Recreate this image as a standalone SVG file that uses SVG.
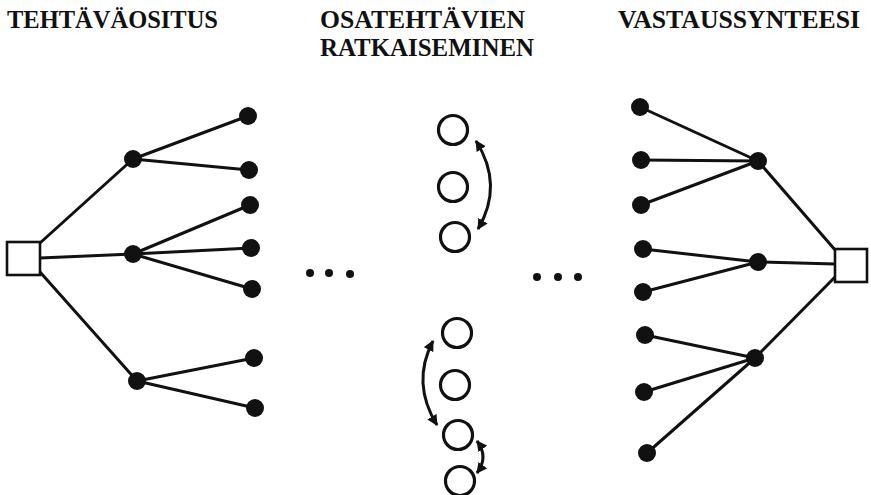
<svg xmlns="http://www.w3.org/2000/svg" width="871" height="495" viewBox="0 0 871 495">
  <style>
    .title { font-family: "Liberation Serif", "DejaVu Serif", serif; font-weight: bold; font-size: 26px; fill: #111; }
    .edge { stroke: #111; stroke-width: 3; fill: none; stroke-linecap: round; }
    .box { fill: #fff; stroke: #111; stroke-width: 2.6; }
    .dot { fill: #111; }
    .ring { fill: #fff; stroke: #111; stroke-width: 3.2; }
    .loop { stroke: #111; stroke-width: 3; fill: none; marker-start: url(#head); marker-end: url(#head); }
  </style>
  <defs>
    <marker id="head" viewBox="0 0 10 10" refX="9" refY="5" markerWidth="3.6" markerHeight="3.6" orient="auto-start-reverse" markerUnits="strokeWidth">
      <path d="M0,0 L10,5 L0,10 Z" fill="#111"/>
    </marker>
  </defs>

  <rect width="871" height="495" fill="#fff"/>

  <!-- column headings -->
  <g id="headings">
    <text class="title" x="7" y="28" textLength="211" lengthAdjust="spacingAndGlyphs">TEHTÄVÄOSITUS</text>
    <text class="title" x="320" y="28" textLength="205" lengthAdjust="spacingAndGlyphs">OSATEHTÄVIEN</text>
    <text class="title" x="320" y="56" textLength="214" lengthAdjust="spacingAndGlyphs">RATKAISEMINEN</text>
    <text class="title" x="618" y="28" textLength="242" lengthAdjust="spacingAndGlyphs">VASTAUSSYNTEESI</text>
  </g>

  <!-- connectors -->
  <g id="connectors">
    <!-- decomposition tree -->
    <line class="edge" x1="40" y1="243" x2="133" y2="159"/>
    <line class="edge" x1="40" y1="258" x2="133" y2="254"/>
    <line class="edge" x1="40" y1="272" x2="137" y2="381"/>
    <line class="edge" x1="133" y1="159" x2="248" y2="116"/>
    <line class="edge" x1="133" y1="159" x2="249" y2="170"/>
    <line class="edge" x1="133" y1="254" x2="250" y2="205"/>
    <line class="edge" x1="133" y1="254" x2="251" y2="248"/>
    <line class="edge" x1="133" y1="254" x2="252" y2="289"/>
    <line class="edge" x1="137" y1="381" x2="254" y2="358"/>
    <line class="edge" x1="137" y1="381" x2="255" y2="408"/>
    <!-- synthesis tree -->
    <line class="edge" x1="640" y1="107" x2="758" y2="161"/>
    <line class="edge" x1="641" y1="160" x2="758" y2="161"/>
    <line class="edge" x1="641" y1="205" x2="758" y2="161"/>
    <line class="edge" x1="643" y1="249" x2="758" y2="262"/>
    <line class="edge" x1="643" y1="292" x2="758" y2="262"/>
    <line class="edge" x1="645" y1="335" x2="755" y2="358"/>
    <line class="edge" x1="644" y1="392" x2="755" y2="358"/>
    <line class="edge" x1="647" y1="453" x2="755" y2="358"/>
    <line class="edge" x1="758" y1="161" x2="836" y2="251"/>
    <line class="edge" x1="758" y1="262" x2="835" y2="264"/>
    <line class="edge" x1="755" y1="358" x2="836" y2="276"/>
    <!-- solving loops -->
    <path class="loop" d="M476,141 Q504,185 478,229"/>
    <path class="loop" d="M433,341 Q411,383 437,425"/>
    <path class="loop" d="M477,441 Q489,457 477,473"/>
  </g>

  <!-- decomposition tree nodes -->
  <g id="task-root"><rect class="box" x="7" y="242" width="33" height="33"/></g>
  <g id="sub-1"><circle class="dot" cx="133" cy="159" r="9"/></g>
  <g id="sub-2"><circle class="dot" cx="133" cy="254" r="9"/></g>
  <g id="sub-3"><circle class="dot" cx="137" cy="381" r="9"/></g>
  <g id="leaf-1"><circle class="dot" cx="248" cy="116" r="9"/></g>
  <g id="leaf-2"><circle class="dot" cx="249" cy="170" r="9"/></g>
  <g id="leaf-3"><circle class="dot" cx="250" cy="205" r="9"/></g>
  <g id="leaf-4"><circle class="dot" cx="251" cy="248" r="9"/></g>
  <g id="leaf-5"><circle class="dot" cx="252" cy="289" r="9"/></g>
  <g id="leaf-6"><circle class="dot" cx="254" cy="358" r="9"/></g>
  <g id="leaf-7"><circle class="dot" cx="255" cy="408" r="9"/></g>

  <!-- ellipsis marks -->
  <g id="ellipsis-left">
    <circle class="dot" cx="310" cy="273" r="4"/>
    <circle class="dot" cx="329" cy="273" r="4"/>
    <circle class="dot" cx="350" cy="274" r="4"/>
  </g>
  <g id="ellipsis-right">
    <circle class="dot" cx="537" cy="277" r="4"/>
    <circle class="dot" cx="558" cy="277" r="4"/>
    <circle class="dot" cx="578" cy="277" r="4"/>
  </g>

  <!-- subtask solving rings -->
  <g id="ring-a1"><circle class="ring" cx="453" cy="130" r="14.5"/></g>
  <g id="ring-a2"><circle class="ring" cx="453" cy="187" r="14.5"/></g>
  <g id="ring-a3"><circle class="ring" cx="455" cy="237" r="14.5"/></g>
  <g id="ring-b1"><circle class="ring" cx="457" cy="333" r="14.5"/></g>
  <g id="ring-b2"><circle class="ring" cx="455" cy="385" r="14.5"/></g>
  <g id="ring-b3"><circle class="ring" cx="458" cy="435" r="14.5"/></g>
  <g id="ring-b4"><circle class="ring" cx="460" cy="481" r="14.5"/></g>

  <!-- synthesis tree nodes -->
  <g id="part-1"><circle class="dot" cx="640" cy="107" r="9"/></g>
  <g id="part-2"><circle class="dot" cx="641" cy="160" r="9"/></g>
  <g id="part-3"><circle class="dot" cx="641" cy="205" r="9"/></g>
  <g id="part-4"><circle class="dot" cx="643" cy="249" r="9"/></g>
  <g id="part-5"><circle class="dot" cx="643" cy="292" r="9"/></g>
  <g id="part-6"><circle class="dot" cx="645" cy="335" r="9"/></g>
  <g id="part-7"><circle class="dot" cx="644" cy="392" r="9"/></g>
  <g id="part-8"><circle class="dot" cx="647" cy="453" r="9"/></g>
  <g id="merge-1"><circle class="dot" cx="758" cy="161" r="9"/></g>
  <g id="merge-2"><circle class="dot" cx="758" cy="262" r="9"/></g>
  <g id="merge-3"><circle class="dot" cx="755" cy="358" r="9"/></g>
  <g id="answer-root"><rect class="box" x="835" y="249" width="32" height="33"/></g>
</svg>
